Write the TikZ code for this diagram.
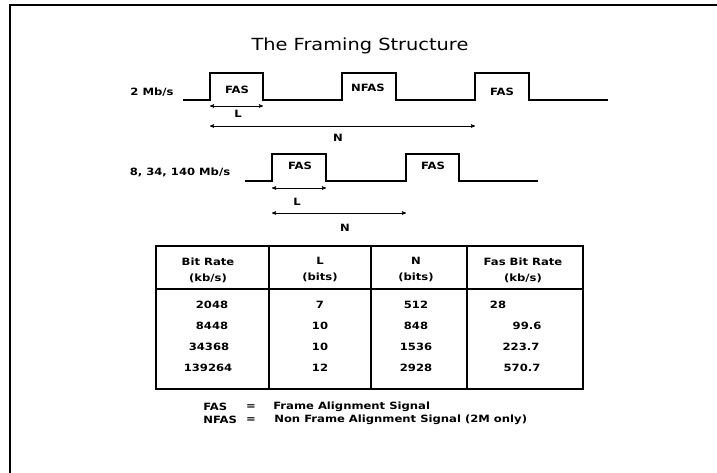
\documentclass[tikz,border=0pt]{standalone}
\usepackage{fontspec}
\setmainfont{DejaVu Sans}[FakeStretch=1.16]
\usetikzlibrary{arrows}

\begin{document}
\begin{tikzpicture}[x=1pt,y=-1pt,<->,>=stealth',semithick]
\tikzstyle{lbl}=[font=\bfseries\fontsize{10}{16}\selectfont,inner sep=0pt]
\tikzstyle{cell}=[lbl,align=center]
\tikzstyle{wave}=[-,line width=1.3pt]
\useasboundingbox (0,0) rectangle (717,473);
% frame
\draw[-,line width=1.3pt] (10,473) -- (10,5) -- (717,5);
\node[font=\fontsize{16.7}{20}\selectfont] (title) at (360,46) {The Framing Structure};
% 2 Mb/s
\node[lbl] (r2) at (152,92) {2 Mb/s};
\draw[wave] (183,100) -- (210,100) -- (210,73) -- (263,73) -- (263,100) -- (342,100) -- (342,73)
  -- (396,73) -- (396,100) -- (475,100) -- (475,73) -- (529,73) -- (529,100) -- (608,100);
\node[lbl] (fas1) at (237,90) {FAS};
\node[lbl] (nfas) at (368,88) {NFAS};
\node[lbl] (fas2) at (502,92) {FAS};
\coordinate (la) at (210,106);
\coordinate (lb) at (263,106);
\coordinate (na) at (210,126);
\coordinate (nb) at (475,126);
\draw (la) -- (lb);
\draw (na) -- (nb);
\node[lbl] (l1) at (238,114) {L};
\node[lbl] (n1) at (338,138) {N};
% 8, 34, 140 Mb/s
\node[lbl] (r8) at (180,172) {8, 34, 140 Mb/s};
\draw[wave] (245,181) -- (272,181) -- (272,154) -- (326,154) -- (326,181) -- (406,181) -- (406,154)
  -- (459,154) -- (459,181) -- (538,181);
\node[lbl] (fas3) at (300,166) {FAS};
\node[lbl] (fas4) at (433,166) {FAS};
\coordinate (lc) at (272,188);
\coordinate (ld) at (326,188);
\coordinate (nc) at (272,213);
\coordinate (nd) at (406,213);
\draw (lc) -- (ld);
\draw (nc) -- (nd);
\node[lbl] (l2) at (297,202) {L};
\node[lbl] (n2) at (345,228) {N};
% table
\draw[-,line width=1.3pt] (156,246) rectangle (583,389);
\draw[-,line width=1.3pt] (156,289) -- (583,289);
\draw[-,line width=1.3pt] (269,246) -- (269,389);
\draw[-,line width=1.3pt] (371,246) -- (371,389);
\draw[-,line width=1.3pt] (467,246) -- (467,389);
\node[cell] (hbr) at (208,270) {Bit Rate\\(kb/s)};
\node[cell] (hl) at (320,270) {L\\(bits)};
\node[cell] (hn) at (416,270) {N\\(bits)};
\node[cell] (hf) at (523,270) {Fas Bit Rate\\(kb/s)};
\node[cell] (br1) at (212,305) {2048};
\node[cell] (br2) at (212,326) {8448};
\node[cell] (br3) at (209,347) {34368};
\node[cell] (br4) at (208,368) {139264};
\node[cell] (l21) at (320,305) {7};
\node[cell] (l22) at (320,326) {10};
\node[cell] (l23) at (320,347) {10};
\node[cell] (l24) at (320,368) {12};
\node[cell] (n21) at (416,305) {512};
\node[cell] (n22) at (416,326) {848};
\node[cell] (n23) at (416,347) {1536};
\node[cell] (n24) at (416,368) {2928};
\node[cell] (f1) at (498,305) {28};
\node[cell] (f2) at (527,326) {99.6};
\node[cell] (f3) at (521,347) {223.7};
\node[cell] (f4) at (522,368) {570.7};
% legend
\node[lbl,anchor=west] (kfas) at (203,407) {FAS};
\node[lbl] (eq1) at (251,407) {=};
\node[lbl,anchor=west] (tfas) at (273,407) {Frame Alignment Signal};
\node[lbl,anchor=west] (knfas) at (203,420) {NFAS};
\node[lbl] (eq2) at (251,420) {=};
\node[lbl,anchor=west] (tnfas) at (274,420) {Non Frame Alignment Signal (2M only)};
\end{tikzpicture}
\end{document}
